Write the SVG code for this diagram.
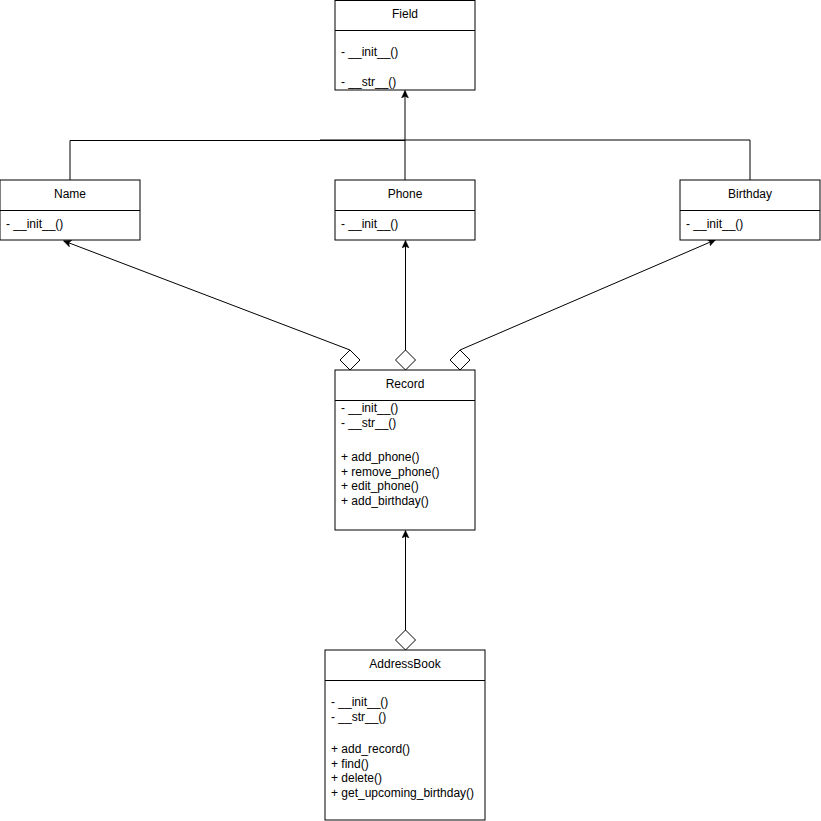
<svg xmlns="http://www.w3.org/2000/svg" width="821" height="821" viewBox="0 0 821 821">
<style>
.box{fill:#fff;stroke:#000;stroke-width:1}
.div{stroke:#000;stroke-width:1}
text{font-family:"Liberation Sans",Arial,Helvetica,sans-serif;font-size:12px;fill:#000}
.t{text-anchor:middle}
.e{fill:none;stroke:#000;stroke-width:1}
.dia{fill:#fff;stroke:#000;stroke-width:1}
</style>
<defs>
<marker id="arr" viewBox="0 0 10 10" refX="9" refY="5" markerWidth="8" markerHeight="8" orient="auto" markerUnits="userSpaceOnUse">
<path d="M0,0.5 L10,5 L0,9.5 L2.5,5 Z" fill="#000" stroke="#000" stroke-width="0.5"/>
</marker>
</defs>
<rect width="821" height="821" fill="#fff"/>
<g id="connectors">
<path class="e" d="M70 180 V140.5 H405"/>
<path class="e" d="M750 180 V140 H320"/>
<path class="e" d="M405 180 V91" marker-end="url(#arr)"/>
<path class="e" d="M350 350 L64 241" marker-end="url(#arr)"/>
<path class="e" d="M405.5 350 V241" marker-end="url(#arr)"/>
<path class="e" d="M460 350 L715 240" marker-end="url(#arr)"/>
<path class="e" d="M405.5 630 V531" marker-end="url(#arr)"/>
<path class="dia" d="M350 350 L360 360 L350 370 L340 360 Z"/>
<path class="dia" d="M405.5 350 L415.5 360 L405.5 370 L395.5 360 Z"/>
<path class="dia" d="M460 350 L470 360 L460 370 L450 360 Z"/>
<path class="dia" d="M405.5 630 L415.5 640 L405.5 650 L395.5 640 Z"/>
</g>
<g id="field">
<rect class="box" x="335" y="0.5" width="140" height="89.5"/>
<line class="div" x1="335" y1="30.5" x2="475" y2="30.5"/>
<text class="t" x="405" y="18">Field</text>
<text x="341" y="56">- __init__()</text>
<text x="341" y="86">- __str__()</text>
</g>
<g id="name">
<rect class="box" x="0" y="180" width="140" height="60"/>
<line class="div" x1="0" y1="210.5" x2="140" y2="210.5"/>
<text class="t" x="70" y="198">Name</text>
<text x="6" y="228">- __init__()</text>
</g>
<g id="phone">
<rect class="box" x="335" y="180" width="140" height="60"/>
<line class="div" x1="335" y1="210.5" x2="475" y2="210.5"/>
<text class="t" x="405" y="198">Phone</text>
<text x="341" y="228">- __init__()</text>
</g>
<g id="birthday">
<rect class="box" x="680" y="180" width="140" height="60"/>
<line class="div" x1="680" y1="210.5" x2="820" y2="210.5"/>
<text class="t" x="750" y="198">Birthday</text>
<text x="686" y="228">- __init__()</text>
</g>
<g id="record">
<rect class="box" x="335" y="370" width="140" height="160"/>
<line class="div" x1="335" y1="400.5" x2="475" y2="400.5"/>
<text class="t" x="405" y="388">Record</text>
<text x="341" y="412">- __init__()</text>
<text x="341" y="427">- __str__()</text>
<text x="341" y="461">+ add_phone()</text>
<text x="341" y="476">+ remove_phone()</text>
<text x="341" y="490">+ edit_phone()</text>
<text x="341" y="505">+ add_birthday()</text>
</g>
<g id="addressbook">
<rect class="box" x="325" y="650" width="160" height="170"/>
<line class="div" x1="325" y1="680.5" x2="485" y2="680.5"/>
<text class="t" x="405" y="668">AddressBook</text>
<text x="331" y="706">- __init__()</text>
<text x="331" y="721">- __str__()</text>
<text x="331" y="753">+ add_record()</text>
<text x="331" y="768">+ find()</text>
<text x="331" y="782">+ delete()</text>
<text x="331" y="797">+ get_upcoming_birthday()</text>
</g>
</svg>
